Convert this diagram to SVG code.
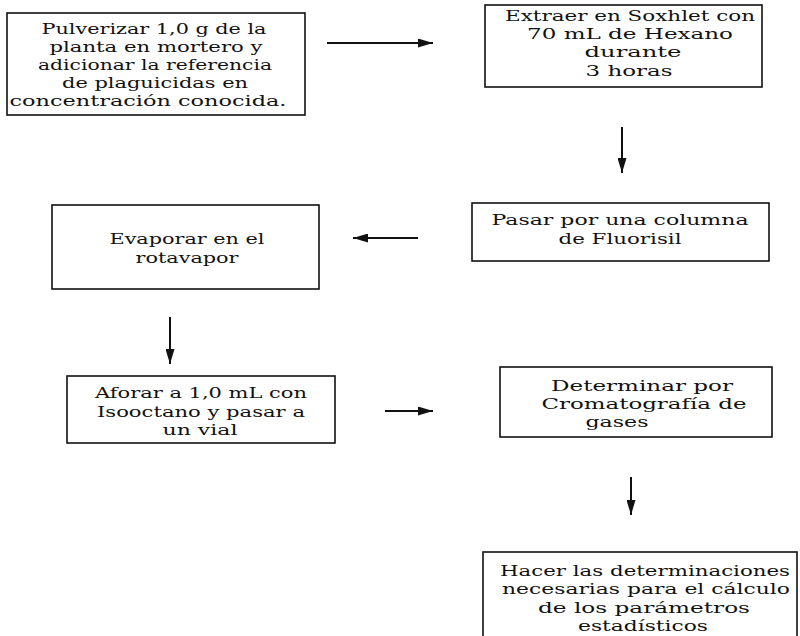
<svg xmlns="http://www.w3.org/2000/svg" width="800" height="636" viewBox="0 0 800 636">
<style>
.box{fill:#fff;stroke:#111;stroke-width:1.6}
.t{font-family:"DejaVu Serif","Liberation Serif",serif;font-size:15px;fill:#111;text-anchor:middle}
.c{stroke:#111;stroke-width:2;fill:none;marker-end:url(#ah)}
</style>
<defs>
<marker id="ah" viewBox="0 0 15 9" refX="15" refY="4.5" markerWidth="15" markerHeight="9" orient="auto" markerUnits="userSpaceOnUse">
<path d="M0,0 L15,4.5 L0,9 Z" fill="#111"/>
</marker>
</defs>
<rect width="800" height="636" fill="#fff"/>
<g id="n1">
<rect class="box" x="7" y="13" width="298" height="102"/>
<text class="t" x="154" y="34" textLength="225" lengthAdjust="spacingAndGlyphs">Pulverizar 1,0 g de la</text>
<text class="t" x="156" y="52" textLength="213" lengthAdjust="spacingAndGlyphs">planta en mortero y</text>
<text class="t" x="155" y="70" textLength="234" lengthAdjust="spacingAndGlyphs">adicionar la referencia</text>
<text class="t" x="155" y="88" textLength="186" lengthAdjust="spacingAndGlyphs">de plaguicidas en</text>
<text class="t" x="148" y="106" textLength="277" lengthAdjust="spacingAndGlyphs">concentración conocida.</text>
</g>
<g id="n2">
<rect class="box" x="485" y="5" width="277" height="82"/>
<text class="t" x="630" y="21" textLength="250" lengthAdjust="spacingAndGlyphs">Extraer en Soxhlet con</text>
<text class="t" x="630" y="39" textLength="206" lengthAdjust="spacingAndGlyphs">70 mL de Hexano</text>
<text class="t" x="633" y="57" textLength="97" lengthAdjust="spacingAndGlyphs">durante</text>
<text class="t" x="629" y="76" textLength="87" lengthAdjust="spacingAndGlyphs">3 horas</text>
</g>
<g id="n3">
<rect class="box" x="472" y="203" width="297" height="58"/>
<text class="t" x="620" y="225" textLength="257" lengthAdjust="spacingAndGlyphs">Pasar por una columna</text>
<text class="t" x="620" y="244" textLength="123" lengthAdjust="spacingAndGlyphs">de Fluorisil</text>
</g>
<g id="n4">
<rect class="box" x="52" y="205" width="267" height="84"/>
<text class="t" x="187" y="244" textLength="155" lengthAdjust="spacingAndGlyphs">Evaporar en el</text>
<text class="t" x="187" y="263" textLength="103" lengthAdjust="spacingAndGlyphs">rotavapor</text>
</g>
<g id="n5">
<rect class="box" x="67" y="376" width="268" height="67"/>
<text class="t" x="201" y="398" textLength="212" lengthAdjust="spacingAndGlyphs">Aforar a 1,0 mL con</text>
<text class="t" x="201" y="417" textLength="208" lengthAdjust="spacingAndGlyphs">Isooctano y pasar a</text>
<text class="t" x="200" y="435" textLength="75" lengthAdjust="spacingAndGlyphs">un vial</text>
</g>
<g id="n6">
<rect class="box" x="500" y="367" width="272" height="70"/>
<text class="t" x="642" y="391" textLength="182" lengthAdjust="spacingAndGlyphs">Determinar por</text>
<text class="t" x="644" y="409" textLength="205" lengthAdjust="spacingAndGlyphs">Cromatografía de</text>
<text class="t" x="617" y="427" textLength="63" lengthAdjust="spacingAndGlyphs">gases</text>
</g>
<g id="n7">
<rect class="box" x="483" y="552" width="314" height="100"/>
<text class="t" x="645" y="576" textLength="290" lengthAdjust="spacingAndGlyphs">Hacer las determinaciones</text>
<text class="t" x="646" y="594" textLength="288" lengthAdjust="spacingAndGlyphs">necesarias para el cálculo</text>
<text class="t" x="644" y="613" textLength="212" lengthAdjust="spacingAndGlyphs">de los parámetros</text>
<text class="t" x="643" y="631" textLength="130" lengthAdjust="spacingAndGlyphs">estadísticos</text>
</g>
<g id="connectors">
<line class="c" x1="327" y1="43" x2="433" y2="43"/>
<line class="c" x1="622" y1="127" x2="622" y2="173"/>
<line class="c" x1="418" y1="238" x2="353" y2="238"/>
<line class="c" x1="170" y1="317" x2="170" y2="364"/>
<line class="c" x1="385" y1="411" x2="433" y2="411"/>
<line class="c" x1="631" y1="477" x2="631" y2="515"/>
</g>
</svg>
